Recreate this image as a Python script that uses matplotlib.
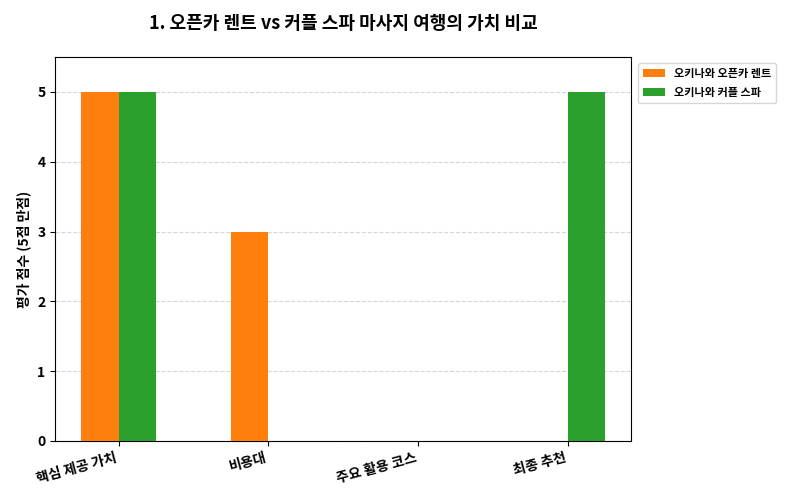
import matplotlib
matplotlib.use("Agg")
import matplotlib.pyplot as plt
import numpy as np

plt.rcParams['font.family'] = ['Noto Sans CJK KR', 'DejaVu Sans']

categories = ["핵심 제공 가치", "비용대", "주요 활용 코스", "최종 추천"]
rent = [5, 3, 0, 0]
spa = [5, 0, 0, 5]
series_names = ["오키나와 오픈카 렌트", "오키나와 커플 스파"]

fig = plt.figure(figsize=(8, 5), dpi=100)
ax = fig.add_axes([0.069, 0.118, 0.72, 0.768])
x = np.arange(len(categories))
w = 0.25
ax.bar(x - w/2, rent, w, color="#ff7f0e", label=series_names[0], zorder=3)
ax.bar(x + w/2, spa, w, color="#2ca02c", label=series_names[1], zorder=3)
ax.set_ylim(0, 5.5)
ax.set_yticks(range(6))
ax.set_xticks(x)
ax.set_xticklabels(categories, rotation=15, ha="right", fontweight="bold", fontsize=10)
for t in ax.get_yticklabels():
    t.set_fontweight("bold")
ax.tick_params(labelsize=10)
ax.yaxis.grid(True, linestyle="--", color="#cccccc", alpha=0.8, zorder=0)
ax.set_ylabel("평가 점수 (5점 만점)", fontweight="bold", fontsize=10)
ax.set_title("1. 오픈카 렌트 vs 커플 스파 마사지 여행의 가치 비교", fontweight="bold", fontsize=13, pad=20)
ax.legend(loc="upper left", bbox_to_anchor=(1.003, 1.0), prop={"weight": "bold", "size": 8})
fig.savefig("out.png", dpi=100)
